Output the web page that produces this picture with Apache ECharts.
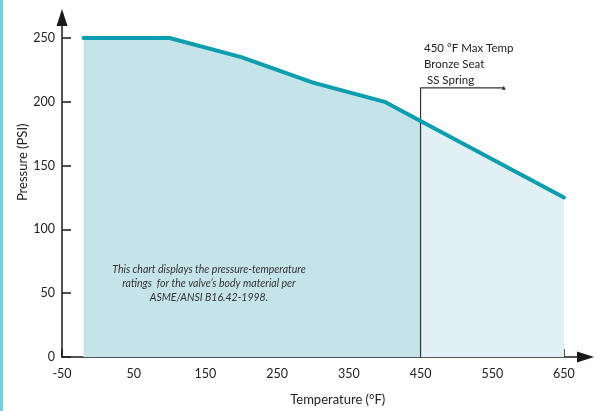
<!DOCTYPE html>
<html>
<head>
<meta charset="utf-8">
<script src="https://cdn.jsdelivr.net/npm/echarts@6/dist/echarts.min.js"></script>
<style>
html,body{margin:0;padding:0;background:#fff;}
#c{width:605px;height:411px;}
</style>
</head>
<body>
<div id="c"></div>
<script>
// Data
const temps = [-20, 100, 200, 300, 400, 450, 650];
const pressures = [250, 250, 235, 215, 200, 185, 125];
const limitTemp = 450;
const xTicks = [-50, 50, 150, 250, 350, 450, 550, 650];
const yTicks = [0, 50, 100, 150, 200, 250];
const calloutTemps = [450, 450, 566];
const calloutPressures = [0, 211, 211];
const noteLines = ['450 °F Max Temp', 'Bronze Seat', ' SS Spring'];
const infoLines = ['This chart displays the pressure-temperature', 'ratings  for the valve\u2019s body material per', 'ASME/ANSI B16.42-1998.'];

const pts = temps.map((t, i) => [t, pressures[i]]);
const before = pts.filter(p => p[0] <= limitTemp);
const after = pts.filter(p => p[0] >= limitTemp);
const callout = calloutTemps.map((t, i) => [t, calloutPressures[i]]);

const FONT = 'Lato, "Open Sans", sans-serif';
const chart = echarts.init(document.getElementById('c'), null, {renderer: 'canvas'});
chart.setOption({
  animation: false,
  backgroundColor: '#ffffff',
  textStyle: {fontFamily: FONT},
  grid: {left: 62, top: 17.6, width: 523.5, height: 339.4, containLabel: false},
  xAxis: {
    type: 'value', min: -50, max: 680,
    splitLine: {show: false},
    axisLine: {show: true, onZero: false, lineStyle: {color: '#1a1a1a', width: 1.5}, symbol: ['none', 'triangle'], symbolSize: [11, 17]},
    axisTick: {show: true, inside: true, length: 8, customValues: xTicks, lineStyle: {color: '#1a1a1a', width: 1.5}},
    axisLabel: {show: true, customValues: xTicks, color: '#222', fontSize: 12.5, margin: 10, fontFamily: FONT},
    name: 'Temperature (°F)', nameLocation: 'middle', nameGap: 36, nameMoveOverlap: false,
    nameTextStyle: {color: '#222', fontSize: 13, fontFamily: FONT, padding: [0, 0, 0, 28]}
  },
  yAxis: {
    type: 'value', min: 0, max: 266,
    splitLine: {show: false},
    axisLine: {show: true, onZero: false, lineStyle: {color: '#1a1a1a', width: 1.5}, symbol: ['none', 'triangle'], symbolSize: [11, 17]},
    axisTick: {show: true, inside: true, length: 9, customValues: yTicks, lineStyle: {color: '#1a1a1a', width: 1.5}},
    axisLabel: {show: true, customValues: yTicks, color: '#222', fontSize: 12.5, margin: 7, fontFamily: FONT},
    name: 'Pressure (PSI)', nameLocation: 'middle', nameGap: 33, nameMoveOverlap: false,
    nameTextStyle: {color: '#222', fontSize: 13, fontFamily: FONT, padding: [0, 0, 0, 50]}
  },
  series: [
    {
      type: 'line', data: before, symbol: 'none', lineStyle: {width: 0},
      areaStyle: {color: '#c5e4e9', opacity: 1}, z: 1
    },
    {
      type: 'line', data: after, symbol: 'none', lineStyle: {width: 0},
      areaStyle: {color: '#e1f0f4', opacity: 1}, z: 1
    },
    {
      type: 'line', data: callout, symbol: 'none', lineStyle: {color: '#333', width: 1.2}, z: 3,
      markPoint: {symbol: 'triangle', symbolSize: [4, 4], data: [{coord: callout[2]}], itemStyle: {color: '#333'}, label: {show: false}}
    },
    {
      type: 'line', data: pts, symbol: 'none', lineStyle: {color: '#0a9eae', width: 4, cap: 'round', join: 'round'}, z: 4
    }
  ],
  graphic: [
    {type: 'rect', left: 0, top: 0, z: 100, shape: {width: 3, height: 411}, style: {fill: '#72d0dc'}},
    {type: 'text', left: 424, top: 40, z: 100, style: {text: noteLines.join('\n'), fill: '#222', font: '11.5px ' + FONT, lineHeight: 16}},
    {type: 'text', x: 209, y: 263, z: 100, style: {text: infoLines.join('\n'), fill: '#333', font: 'italic 10.5px ' + FONT, align: 'center', verticalAlign: 'top', lineHeight: 14}}
  ]
});
</script>
</body>
</html>
